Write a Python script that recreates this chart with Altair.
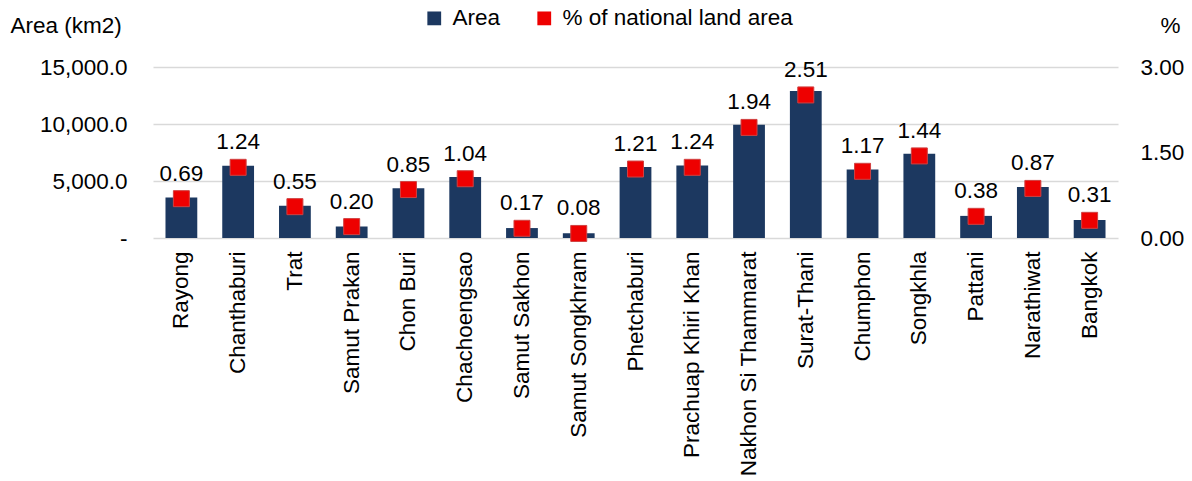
import altair as alt
import pandas as pd

provinces = ["Rayong", "Chanthaburi", "Trat", "Samut Prakan", "Chon Buri", "Chachoengsao",
             "Samut Sakhon", "Samut Songkhram", "Phetchaburi", "Prachuap Khiri Khan",
             "Nakhon Si Thammarat", "Surat-Thani", "Chumphon", "Songkhla", "Pattani",
             "Narathiwat", "Bangkok"]
area_km2 = [3552, 6338, 2819, 1004, 4363, 5351, 872, 417, 6225, 6368, 9943, 12892,
            6010, 7394, 1940, 4475, 1569]
pct_land = [0.69, 1.24, 0.55, 0.20, 0.85, 1.04, 0.17, 0.08, 1.21, 1.24, 1.94, 2.51,
            1.17, 1.44, 0.38, 0.87, 0.31]
series_names = ["Area", "% of national land area"]
series_colors = ["#1c3860", "#ee0000"]

df = pd.DataFrame({
    "province": provinces,
    "area": area_km2,
    "pct": pct_land,
    "s_area": series_names[0],
    "s_pct": series_names[1],
})

FONT = "Liberation Sans"
FS = 22.5

color_scale = alt.Scale(domain=series_names, range=series_colors)
legend = alt.Legend(
    title=None, orient="none", direction="horizontal", legendX=270, legendY=-60,
    symbolType="square", symbolSize=190, symbolStrokeWidth=0,
    labelFontSize=FS, labelFont=FONT, labelColor="#000000", labelLimit=400,
    columnPadding=32, symbolOffset=0, labelOffset=7,
)

x_enc = alt.X("province:N", sort=provinces, title=None,
              scale=alt.Scale(paddingInner=0.44, paddingOuter=0.22),
              axis=alt.Axis(labelAngle=-90, labelFontSize=FS, labelFont=FONT,
                            labelColor="#000000", labelLimit=500, labelPadding=13,
                            domain=False, ticks=False, grid=False))

bars = alt.Chart(df).mark_bar(color=series_colors[0]).encode(
    x=x_enc,
    y=alt.Y("area:Q", scale=alt.Scale(domain=[0, 15000], nice=False),
            axis=alt.Axis(orient="left", values=[0, 5000, 10000, 15000],
                          labelExpr="datum.value == 0 ? '-\u00a0\u00a0\u00a0' : format(datum.value, ',.1f')",
                          title="Area (km2)", titleAngle=0, titleAlign="left",
                          titleBaseline="alphabetic", titleX=-143, titleY=-35,
                          titleFontSize=FS, titleFont=FONT, titleFontWeight="normal",
                          titleColor="#000000",
                          labelFontSize=FS, labelFont=FONT, labelColor="#000000",
                          labelPadding=26, domain=False, ticks=False,
                          grid=True, gridColor="#d9d9d9", gridWidth=1.5)),
    color=alt.Color("s_area:N", scale=color_scale, legend=legend),
)

pct_y = alt.Y("pct:Q", scale=alt.Scale(domain=[0, 3], nice=False),
              axis=alt.Axis(orient="right", values=[0, 1.5, 3], format=".2f",
                            title="%", titleAngle=0, titleAlign="left",
                            titleBaseline="alphabetic", titleX=42, titleY=-35,
                            titleFontSize=FS, titleFont=FONT, titleFontWeight="normal",
                            titleColor="#000000",
                            labelFontSize=FS, labelFont=FONT, labelColor="#000000",
                            labelPadding=22, domain=False, ticks=False, grid=False))

points = alt.Chart(df).mark_square(size=256, opacity=1, stroke="#d04040", strokeWidth=1).encode(
    x=alt.X("province:N", sort=provinces),
    y=pct_y,
    color=alt.Color("s_pct:N", scale=color_scale, legend=legend),
)

labels = alt.Chart(df).mark_text(dy=-18, baseline="alphabetic", fontSize=FS, font=FONT,
                                 color="#000000").encode(
    x=alt.X("province:N", sort=provinces),
    y=alt.Y("pct:Q", scale=alt.Scale(domain=[0, 3], nice=False)),
    text=alt.Text("pct:Q", format=".2f"),
)

chart = alt.layer(bars, alt.layer(points, labels)).resolve_scale(y="independent").properties(
    width=965, height=171,
    autosize=alt.AutoSizeParams(type="none"),
    padding={"left": 153, "top": 67, "right": 74, "bottom": 243},
).configure(font=FONT).configure_view(stroke="transparent", strokeWidth=0)

chart.save("out.html", embed_options={"renderer": "svg", "actions": False})
